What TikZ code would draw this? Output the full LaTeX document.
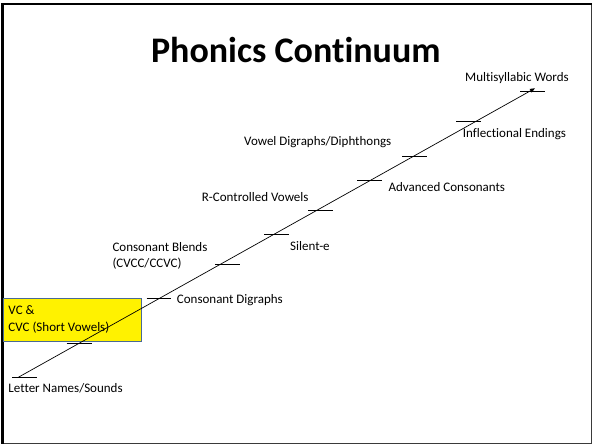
\documentclass[tikz,border=0pt]{standalone}
\usepackage{fontspec}
\setmainfont{Carlito}[Ligatures=NoCommon]
\usetikzlibrary{arrows.meta}
\definecolor{boxline}{HTML}{4A6A94}
\definecolor{framegray}{HTML}{3A3A3A}
\begin{document}
\begin{tikzpicture}[x=1pt,y=-1pt,
  lbl/.style={inner sep=0pt,anchor=base west,font=\fontsize{13}{16.7}\selectfont},
  tickmark/.style={line width=1.1pt,black},
  stagebox/.style={draw=boxline,line width=0.9pt,fill=yellow}]
\useasboundingbox (0,0) rectangle (592,445);
\fill[white] (0,0) rectangle (592,445);
% slide frame
\draw[framegray,line width=1pt] (591,4) -- (591,443.6) -- (2.5,443.6);
\draw[black,line width=2.5pt] (1.3,4.2) -- (591.5,4.2);
\draw[black,line width=2.5pt] (2.5,3) -- (2.5,444.2);
% title
\node[inner sep=0pt,anchor=base,font=\fontsize{36}{40}\bfseries\selectfont] (title) at (295.8,62.7) {Phonics Continuum};
% highlighted stage
\node[stagebox,minimum width=138pt,minimum height=42.4pt,inner sep=0pt,anchor=north west] (box) at (2.7,298.3) {};
% continuum axis
\coordinate (start) at (18.3,377.3);
\coordinate (end) at (535,88.3);
\draw[line width=0.7pt,-{Triangle[length=5pt,width=4pt]}] (start) -- (end);
% stage ticks
\foreach \xa/\xb/\yy in {12.3/36.7/377.3, 66.7/91.7/343.5, 146.7/170.7/298.7,
    215/240/264.3, 264/289/234.3, 308/333/210.3, 357/382/180.3,
    402/426.7/156.3, 456/480.7/121.3, 520/544.7/91.3}
  \draw[tickmark] (\xa,\yy) -- (\xb,\yy);
% stage labels
\node[lbl] (l1) at (8.3,392.6) {Letter Names/Sounds};
\node[lbl] (l2a) at (8.3,314.3) {VC \&};
\node[lbl] (l2b) at (8.3,331) {CVC (Short Vowels)};
\node[lbl] (l3) at (176.7,303.3) {Consonant Digraphs};
\node[lbl] (l4a) at (112.3,251.3) {Consonant Blends};
\node[lbl] (l4b) at (112.3,267.6) {(CVCC/CCVC)};
\node[lbl] (l5) at (290,250.6) {Silent-e};
\node[lbl] (l6) at (201.7,201) {R-Controlled Vowels};
\node[lbl] (l7) at (388.3,191) {Advanced Consonants};
\node[lbl] (l8) at (244,145.3) {Vowel Digraphs/Diphthongs};
\node[lbl] (l9) at (462.7,137) {Inflectional Endings};
\node[lbl] (l10) at (465,81.6) {Multisyllabic Words};
\end{tikzpicture}
\end{document}
